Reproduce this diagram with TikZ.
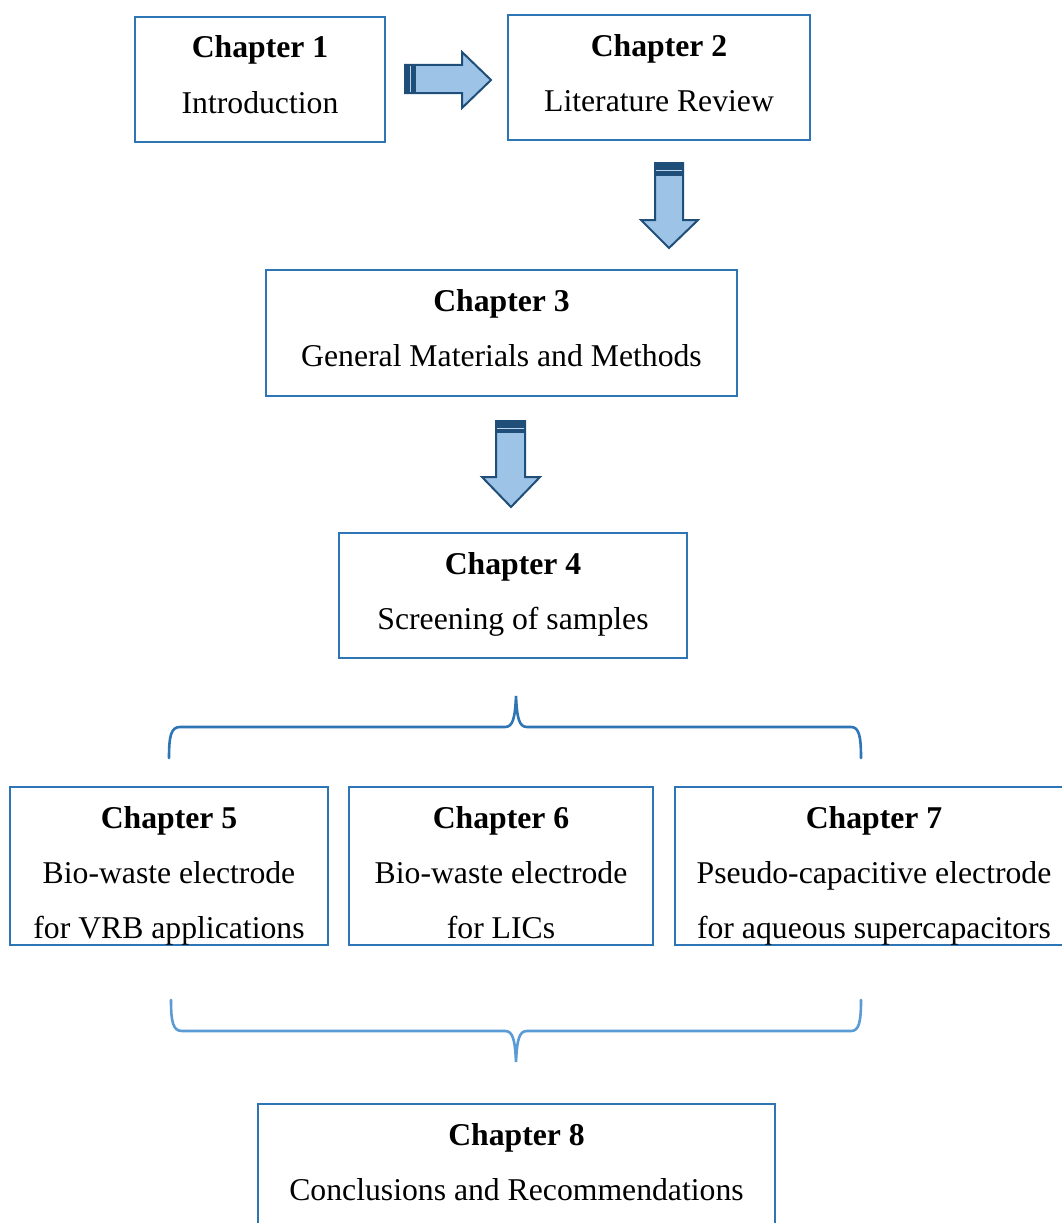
\documentclass[tikz,border=0pt]{standalone}
\usepackage{fontspec}
\setmainfont{Liberation Serif}
\definecolor{boxblue}{HTML}{2E75B6}
\definecolor{arrowfill}{HTML}{9DC3E6}
\definecolor{arrowdark}{HTML}{1F4E79}
\definecolor{bracetop}{HTML}{2E75B6}
\definecolor{bracebot}{HTML}{5B9BD5}
\newcommand{\chl}[1]{\strut#1\strut}
\begin{document}
\begin{tikzpicture}[x=1pt,y=-1pt,
  chbox/.style={draw=boxblue, line width=1.8pt, fill=white, inner sep=0pt},
  chtext/.style={inner sep=0pt, align=center, font=\fontsize{31.7}{55}\selectfont},
  blockarrow/.style={fill=arrowfill, draw=arrowdark, line width=2pt, line join=miter},
  band/.style={fill=arrowdark, draw=arrowdark, line width=1pt},
  stripe/.style={draw=arrowfill!70!white, line width=0.8pt},
  brace/.style={line width=2.6pt, line cap=round}]
\useasboundingbox (0,0) rectangle (1061,1223);

\node[chbox, minimum width=250pt, minimum height=125pt] (c1) at (260,79.5) {};
\node[chbox, minimum width=302pt, minimum height=125pt] (c2) at (659,77.5) {};
\node[chbox, minimum width=471pt, minimum height=126pt] (c3) at (501.5,333) {};
\node[chbox, minimum width=348pt, minimum height=125pt] (c4) at (513,595.5) {};
\node[chbox, minimum width=318pt, minimum height=158pt] (c5) at (169,866) {};
\node[chbox, minimum width=304pt, minimum height=158pt] (c6) at (501,866) {};
\node[chbox, minimum width=398pt, minimum height=158pt] (c7) at (874,866) {};
\node[chbox, minimum width=517pt, minimum height=126pt] (c8) at (516.5,1167) {};

\node[chtext, yshift=5pt] (t1) at (c1) {\chl{\textbf{Chapter 1}}\\\chl{Introduction}};
\node[chtext, yshift=5pt] (t2) at (c2) {\chl{\textbf{Chapter 2}}\\\chl{Literature Review}};
\node[chtext, yshift=5pt] (t3) at (c3) {\chl{\textbf{Chapter 3}}\\\chl{General Materials and Methods}};
\node[chtext, yshift=5pt] (t4) at (c4) {\chl{\textbf{Chapter 4}}\\\chl{Screening of samples}};
\node[chtext, yshift=-6.5pt] (t5) at (c5) {\chl{\textbf{Chapter 5}}\\\chl{Bio-waste electrode}\\\chl{for VRB applications}};
\node[chtext, yshift=-6.5pt] (t6) at (c6) {\chl{\textbf{Chapter 6}}\\\chl{Bio-waste electrode}\\\chl{for LICs}};
\node[chtext, yshift=-6.5pt] (t7) at (c7) {\chl{\textbf{Chapter 7}}\\\chl{Pseudo-capacitive electrode}\\\chl{for aqueous supercapacitors}};
\node[chtext, yshift=5pt] (t8) at (c8) {\chl{\textbf{Chapter 8}}\\\chl{Conclusions and Recommendations}};

% right block arrow (Chapter 1 -> Chapter 2)
\draw[blockarrow] (405,65) -- (462,65) -- (462,52) -- (491,80) -- (462,108) -- (462,93) -- (405,93) -- cycle;
\draw[band] (405,65) rectangle (415,93);
\draw[stripe] (410.5,66) -- (410.5,92);

% down block arrow (Chapter 2 -> Chapter 3)
\draw[blockarrow] (655,163) -- (683,163) -- (683,220) -- (698,220) -- (669,248) -- (641,220) -- (655,220) -- cycle;
\draw[band] (655,163) rectangle (683,175);
\draw[stripe] (656,170) -- (682,170);

% down block arrow (Chapter 3 -> Chapter 4)
\draw[blockarrow] (496,421) -- (525,421) -- (525,477) -- (540,477) -- (511,507) -- (482,477) -- (496,477) -- cycle;
\draw[band] (496,421) rectangle (525,432);
\draw[stripe] (497,428) -- (524,428);

% top brace
\coordinate (tb) at (516,696);
\draw[brace, draw=bracetop] (169,758) .. controls (169,736) and (171,727) .. (180,727)
  -- (505,727) .. controls (513,727) and (515,718) .. (tb)
  .. controls (517,718) and (519,727) .. (527,727)
  -- (851,727) .. controls (859,727) and (861,736) .. (861,758);

% bottom brace
\coordinate (bb) at (516,1062);
\draw[brace, draw=bracebot] (171,1000) .. controls (171,1022) and (173,1031) .. (182,1031)
  -- (505,1031) .. controls (513,1031) and (515,1040) .. (bb)
  .. controls (517,1040) and (519,1031) .. (527,1031)
  -- (851,1031) .. controls (859,1031) and (861,1022) .. (861,1000);
\end{tikzpicture}
\end{document}
